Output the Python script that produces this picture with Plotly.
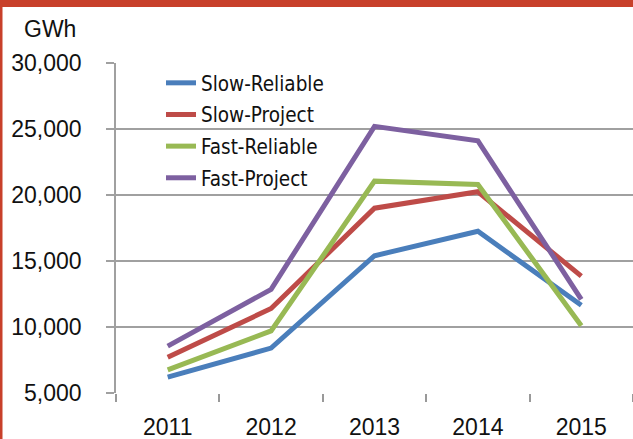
import plotly.graph_objects as go

years = ["2011", "2012", "2013", "2014", "2015"]
slow_reliable = [6200, 8400, 15400, 17250, 11650]
slow_project = [7700, 11400, 19000, 20250, 13850]
fast_reliable = [6750, 9700, 21050, 20800, 10100]
fast_project = [8550, 12850, 25200, 24100, 12100]

series = [
    ("Slow-Reliable", slow_reliable, "#4A7EBB"),
    ("Slow-Project", slow_project, "#BE4B48"),
    ("Fast-Reliable", fast_reliable, "#98B954"),
    ("Fast-Project", fast_project, "#7D60A0"),
]

tick_font = "'Liberation Sans', Arial, sans-serif"
legend_font = "'DejaVu Sans Condensed', sans-serif"

fig = go.Figure()
for name, vals, color in series:
    fig.add_trace(go.Scatter(
        x=years, y=vals, name=name, mode="lines",
        line=dict(color=color, width=5),
        legendgroup=name,
    ))

# plot area pixel geometry: left 116, right 633, top 63, bottom 393
L, R, T, B = 116, 633, 63, 393
W, H = R - L, B - T

def px_x(p):
    return (p - L) / W

def px_y(p):
    return (B - p) / H

fig.update_layout(
    width=633, height=439,
    margin=dict(l=L, r=633 - R, t=T, b=439 - B),
    paper_bgcolor="white", plot_bgcolor="white",
    font=dict(family=tick_font, size=23, color="#111111"),
    showlegend=True,
    legend=dict(
        x=px_x(161), y=px_y(63), xanchor="left", yanchor="top",
        bgcolor="rgba(0,0,0,0)", font=dict(family=legend_font, size=20.5),
        traceorder="grouped", tracegroupgap=2,
    ),
    xaxis=dict(
        type="category", showgrid=False, showline=False,
        ticks="outside", tickson="boundaries", ticklen=8,
        tickcolor="#999999", tickwidth=1.5,
        tickfont=dict(size=23), range=[-0.5, 4.5],
        ticklabelstandoff=18, zeroline=False,
    ),
    yaxis=dict(
        range=[5000, 30000], dtick=5000, tickformat=",",
        showgrid=True, gridcolor="#A0A0A0", gridwidth=1.5,
        showline=True, linecolor="#A0A0A0", linewidth=1.5,
        ticks="outside", ticklen=8, tickcolor="#A0A0A0", tickwidth=1.5,
        tickfont=dict(size=23), ticklabelstandoff=20, zeroline=False,
    ),
    annotations=[dict(
        text="GWh", xref="paper", yref="paper",
        x=px_x(50), y=px_y(29), xanchor="center", yanchor="middle",
        showarrow=False, font=dict(size=23),
    )],
    shapes=[
        # red frame: top band and left strip
        dict(type="rect", xref="paper", yref="paper",
             x0=px_x(-2), x1=px_x(640), y0=px_y(7), y1=px_y(-2),
             fillcolor="#C8402A", line=dict(width=0), layer="above"),
        dict(type="rect", xref="paper", yref="paper",
             x0=px_x(-2), x1=px_x(2.5), y0=px_y(445), y1=px_y(0),
             fillcolor="#C8402A", line=dict(width=0), layer="above"),
    ],
)

# page body has a default 8px margin; drop it so the figure sits at 0,0
fig.write_html("out.html", config={"displayModeBar": False},
               post_script="document.body.style.margin='0';")
